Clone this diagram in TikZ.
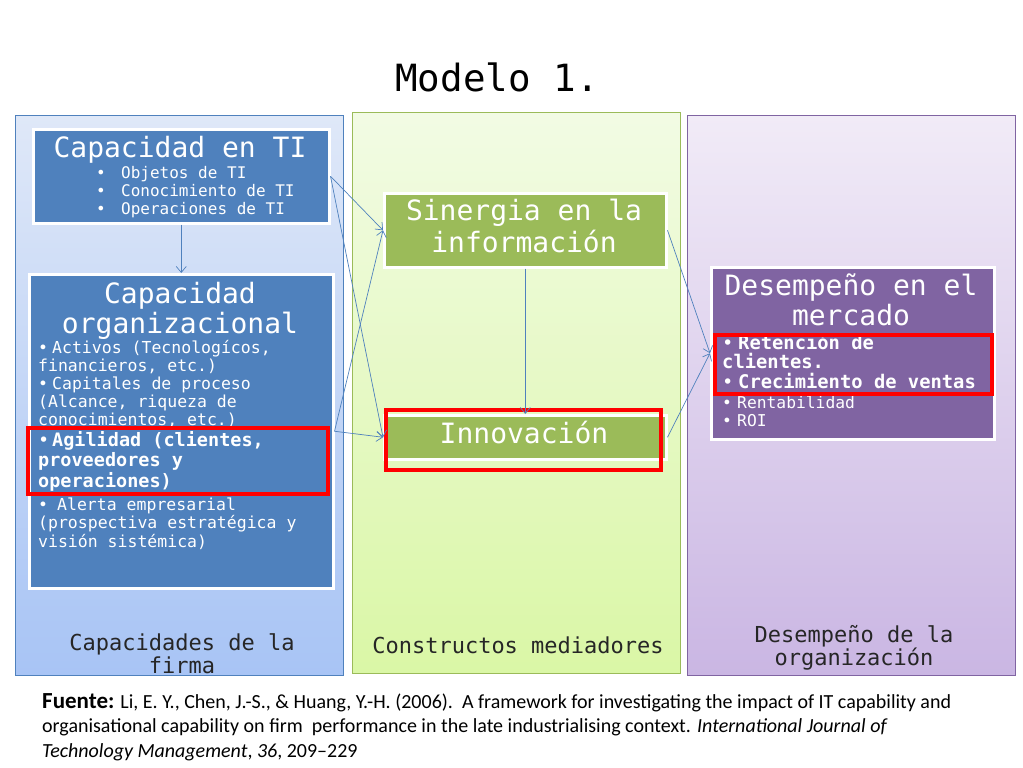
\documentclass[tikz,border=0pt]{standalone}
\usepackage{fontspec}
\setmainfont{Carlito}
\setmonofont{DejaVu Sans Mono}
\usetikzlibrary{arrows.meta, positioning, shadows}

\definecolor{firmblue}{HTML}{4F81BD}
\definecolor{mediagreen}{HTML}{9BBB59}
\definecolor{orgpurple}{HTML}{8064A2}
\definecolor{firmtop}{HTML}{DFE8F8}
\definecolor{firmbottom}{HTML}{A8C4F5}
\definecolor{mediatop}{HTML}{F2FBE4}
\definecolor{mediabottom}{HTML}{DAF7A6}
\definecolor{orgtop}{HTML}{F1EBF7}
\definecolor{orgbottom}{HTML}{CAB6E3}
\newcommand{\itembullet}[1]{\makebox[#1][l]{\mdseries •}}

\begin{document}
\begin{tikzpicture}[
        x=1pt, y=-1pt,
        panel/.style={draw, line width=0.8pt, anchor=north west, inner sep=0pt},
        box/.style={draw=white, line width=2.5pt, anchor=north west, inner sep=0pt,
            drop shadow={shadow xshift=1.5pt, shadow yshift=-2pt, opacity=0.3}},
        title/.style={font=\ttfamily\fontsize{28}{30}\selectfont, text=white, align=center, anchor=base, inner sep=0pt},
        items/.style={font=\ttfamily\fontsize{16.5}{17.8}\selectfont, text=white, align=left, anchor=base west, inner sep=0pt},
        bolditems/.style={items, font=\ttfamily\bfseries\fontsize{18.5}{20.5}\selectfont},
        caption/.style={font=\ttfamily\fontsize{22}{21}\selectfont, text=black!85, align=center, anchor=base, inner sep=0pt},
        link/.style={-{Straight Barb[length=6pt, width=10pt]}, firmblue, line width=0.7pt},
        highlight/.style={draw=red, line width=4.5pt}
    ]
        \useasboundingbox (0,0) rectangle (1023,768);

        % Title
        \node[font=\ttfamily\fontsize{37.5}{40}\selectfont, anchor=base, inner sep=0pt] (heading) at (497,92) {Modelo 1.};

        % Panels
        \node[panel, draw=firmblue, top color=firmtop, bottom color=firmbottom,
            minimum width=328pt, minimum height=560pt] (firma) at (15,115) {};
        \node[panel, draw=mediagreen, top color=mediatop, bottom color=mediabottom,
            minimum width=328pt, minimum height=561pt] (mediadores) at (352,112) {};
        \node[panel, draw=orgpurple, top color=orgtop, bottom color=orgbottom,
            minimum width=328pt, minimum height=560pt] (organizacion) at (687,115) {};

        % Boxes
        \node[box, fill=firmblue, minimum width=296pt, minimum height=94pt] (ti) at (32,128) {};
        \node[box, fill=firmblue, minimum width=304pt, minimum height=314pt] (org) at (28,273) {};
        \node[box, fill=mediagreen, minimum width=282pt, minimum height=74pt] (sin) at (383,192) {};
        \node[box, fill=mediagreen, minimum width=282pt, minimum height=44pt] (inn) at (383,414) {};
        \node[box, fill=orgpurple, minimum width=283pt, minimum height=172pt] (mkt) at (710,266) {};

        % Box texts (multi-line nodes sit on their last baseline)
        \node[title] (tiTitle) at (180,157) {Capacidad en TI};
        \node[items, font=\ttfamily\fontsize{16}{18}\selectfont] (tiList) at (96,214)
            {\itembullet{25pt}Objetos de TI\\ \itembullet{25pt}Conocimiento de TI\\ \itembullet{25pt}Operaciones de TI};
        \node[title] (orgTitle) at (180,333) {Capacidad\\organizacional};
        \node[items] (orgList) at (38,425)
            {\itembullet{14pt}Activos (Tecnologícos,\\ financieros, etc.)\\ \itembullet{14pt}Capitales de proceso\\
             (Alcance, riqueza de\\ conocimientos, etc.)};
        \node[bolditems] (orgAgil) at (38,487)
            {\itembullet{14pt}Agilidad (clientes,\\ proveedores y\\ operaciones)};
        \node[items, font=\ttfamily\fontsize{16.5}{18.5}\selectfont] (orgAlert) at (38,547)
            {\itembullet{19pt}Alerta empresarial\\ (prospectiva estratégica y\\ visión sistémica)};
        \node[title, font=\ttfamily\fontsize{28}{32}\selectfont] (sinTitle) at (524,252) {Sinergia en la\\información};
        \node[title] (innTitle) at (524,443) {Innovación};
        \node[title] (mktTitle) at (851,325) {Desempeño en el\\mercado};
        \node[bolditems, font=\ttfamily\bfseries\fontsize{18.8}{19.5}\selectfont] (mktBold) at (722,388)
            {\itembullet{16pt}Retención de\\ clientes.\\ \itembullet{16pt}Crecimiento de ventas};
        \node[items, font=\ttfamily\fontsize{16.3}{18}\selectfont] (mktList) at (722,426)
            {\itembullet{15pt}Rentabilidad\\ \itembullet{15pt}ROI};

        % Highlights
        \draw[highlight] (28,428) rectangle (328,494);
        \draw[highlight] (386,410) rectangle (661,470);
        \draw[highlight] (715,335) rectangle (992,394);

        % Panel captions
        \node[caption] (firmaCap) at (182,673) {Capacidades de la\\firma};
        \node[caption] (mediaCap) at (518,653) {Constructos mediadores};
        \node[caption, font=\ttfamily\fontsize{22}{23}\selectfont] (orgCap) at (854,665) {Desempeño de la\\organización};

        % Links
        \draw[link] (ti.south) -- (org.north);
        \draw[link] (ti.east) -- (sin.west);
        \draw[link] (ti.east) -- (inn.west);
        \draw[link] (org.east) -- (sin.west);
        \draw[link] (org.east) -- (inn.west);
        \draw[link] (sin.south) -- (inn.north);
        \draw[link] (sin.east) -- (mkt.west);
        \draw[link] (inn.east) -- (mkt.west);

        % Source
        \node[font=\fontsize{20}{24.5}\selectfont, align=left, anchor=base west, inner sep=0pt] (source) at (42,757)
            {{\bfseries\fontsize{23}{24.5}\selectfont Fuente:} Li, E. Y., Chen, J.-S., \& Huang, Y.-H. (2006).\ \ A framework for investigating the impact of IT capability and\\
             organisational capability on firm\ \ performance in the late industrialising context. \textit{International Journal of}\\
             \textit{Technology Management}, \textit{36}, 209–229};
    \end{tikzpicture}
\end{document}
